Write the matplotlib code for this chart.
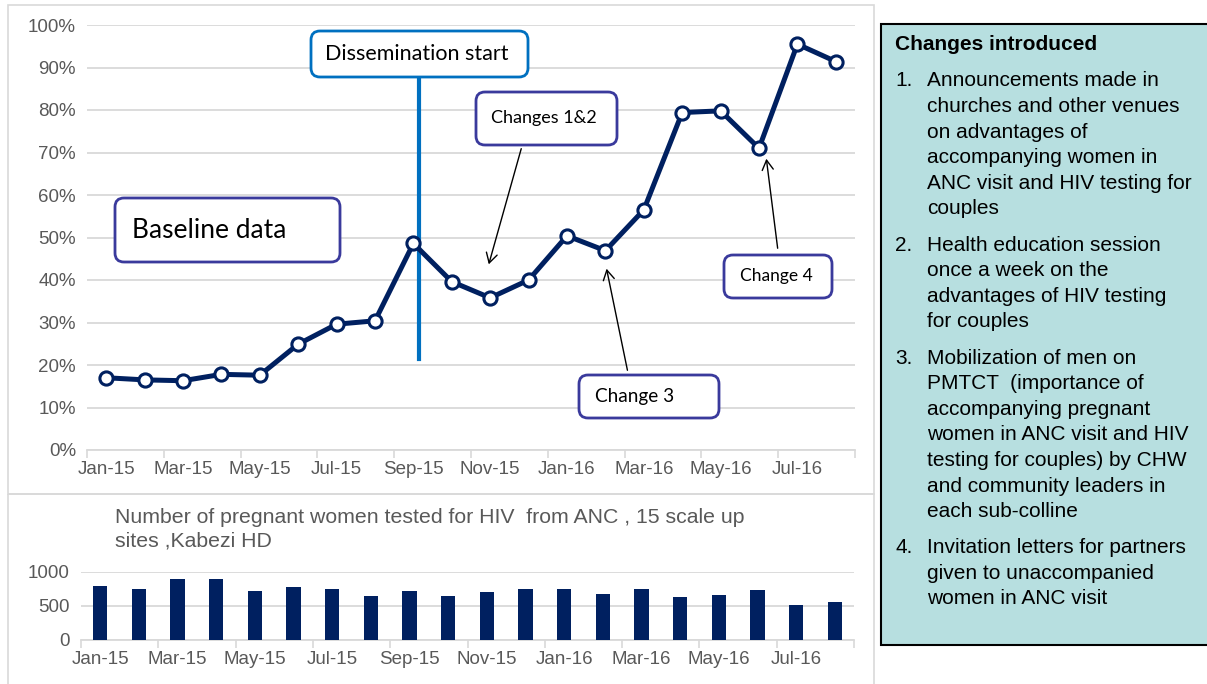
import matplotlib
matplotlib.use("Agg")
import matplotlib.pyplot as plt
from matplotlib.patches import Rectangle, FancyBboxPatch, FancyArrowPatch
from matplotlib.transforms import Affine2D

W, H = 1207, 684

months = ['Jan-15', 'Feb-15', 'Mar-15', 'Apr-15', 'May-15', 'Jun-15', 'Jul-15', 'Aug-15',
          'Sep-15', 'Oct-15', 'Nov-15', 'Dec-15', 'Jan-16', 'Feb-16', 'Mar-16', 'Apr-16',
          'May-16', 'Jun-16', 'Jul-16', 'Aug-16']
# proportion of women accompanied / couples tested
pct = [0.170, 0.165, 0.163, 0.178, 0.176, 0.249, 0.296, 0.304, 0.486, 0.396,
       0.358, 0.400, 0.504, 0.469, 0.565, 0.794, 0.798, 0.710, 0.955, 0.914]
# number of pregnant women tested for HIV
tested = [792, 757, 900, 900, 718, 782, 743, 644, 718, 644,
          708, 757, 743, 678, 757, 634, 668, 733, 515, 564]

changes = [
    ("1.", ["Announcements made in", "churches and other venues", "on advantages of",
            "accompanying women in", "ANC visit and HIV testing for", "couples"]),
    ("2.", ["Health education session", "once a week on the",
            "advantages of HIV testing", "for couples"]),
    ("3.", ["Mobilization of men on", "PMTCT  (importance of",
            "accompanying pregnant", "women in ANC visit and HIV",
            "testing for couples) by CHW", "and community leaders in",
            "each sub-colline"]),
    ("4.", ["Invitation letters for partners", "given to unaccompanied",
            "women in ANC visit"]),
]

navy = '#002060'
grey_txt = '#595959'
grid_c = '#D9D9D9'
box_c = '#3A3A9C'
blue = '#0070C0'

plt.rcParams['font.family'] = ['Liberation Sans', 'DejaVu Sans']

fig = plt.figure(figsize=(W / 100, H / 100), dpi=100)
# pixel coords, origin top-left
pxt = Affine2D().scale(1 / W, -1 / H).translate(0, 1) + fig.transFigure


def rect(x0, y0, x1, y1):
    return [x0 / W, 1 - y1 / H, (x1 - x0) / W, (y1 - y0) / H]


# chart frames
fig.patches.append(Rectangle((8, 5), 866, 489, transform=pxt, fill=False, ec=grid_c, lw=1.2))
fig.patches.append(Rectangle((8, 494), 866, 200, transform=pxt, fill=False, ec=grid_c, lw=1.2))

x = list(range(len(months)))

# ---- top line chart
ax = fig.add_axes(rect(87, 25, 855, 450))
ax.plot(x, pct, color=navy, lw=3.6, marker='o', ms=9.5, mfc='white', mec=navy, mew=2.2, zorder=3)
ax.set_ylim(0, 1.0)
ax.set_xlim(-0.5, len(months) - 0.5)
ax.set_yticks([i / 10 for i in range(11)])
ax.set_yticklabels(['%d%%' % (i * 10) for i in range(11)])
ax.set_xticks(x[::2])
ax.set_xticklabels(months[::2])
ax.set_xticks([i - 0.5 for i in range(0, 21, 2)], minor=True)
ax.tick_params(axis='both', which='major', length=0, labelsize=13.5, labelcolor=grey_txt, pad=8)
ax.tick_params(axis='x', which='minor', length=6, color=grid_c, width=1.2)
ax.grid(axis='y', color=grid_c, lw=1.3)
ax.set_axisbelow(True)
for s in ['top', 'right', 'left']:
    ax.spines[s].set_visible(False)
ax.spines['bottom'].set_color(grid_c)
ax.spines['bottom'].set_linewidth(1.3)

# dissemination line
ax.plot([8.15, 8.15], [0.214, 0.93], color=blue, lw=3, clip_on=False, zorder=2)


def label_box(x0, y0, x1, y1, txt, ec, fs, lw=2, ha='center', tx=None):
    fig.patches.append(FancyBboxPatch((x0, y0), x1 - x0, y1 - y0,
                                      boxstyle='round,pad=0,rounding_size=9',
                                      transform=pxt, fc='white', ec=ec, lw=lw, zorder=5))
    if tx is None:
        tx = (x0 + x1) / 2
    fig.text(tx / W, 1 - ((y0 + y1) / 2) / H, txt, ha=ha, va='center', fontsize=fs,
             family='Lato', color='black', zorder=6)


def arrow(xa, ya, xb, yb):
    fig.patches.append(FancyArrowPatch((xa, ya), (xb, yb), transform=pxt,
                                       arrowstyle='->,head_length=7,head_width=4',
                                       color='black', lw=1, zorder=6))


label_box(311, 31, 528, 77, "Dissemination start", blue, 15.5, tx=417)
label_box(115, 198, 340, 262, "Baseline data", box_c, 19, ha='left', tx=132)
label_box(476, 92, 617, 145, "Changes 1&2", box_c, 13, tx=544)
label_box(579, 375, 719, 418, "Change 3", box_c, 13.7, tx=635)
label_box(724, 255, 832, 298, "Change 4", box_c, 12.5, tx=776)
arrow(522, 146, 488, 267)
arrow(628, 373, 606, 266)
arrow(778, 251, 766, 156)

# ---- bottom bar chart
bx = fig.add_axes(rect(81, 572, 854, 640))
bx.bar(x, tested, width=0.37, color=navy, zorder=3)
bx.set_ylim(0, 1000)
bx.set_xlim(-0.5, len(months) - 0.5)
bx.set_yticks([0, 500, 1000])
bx.set_xticks(x[::2])
bx.set_xticklabels(months[::2])
bx.set_xticks([i - 0.5 for i in range(0, 21, 2)], minor=True)
bx.tick_params(axis='both', which='major', length=0, labelsize=13.5, labelcolor=grey_txt, pad=8)
bx.tick_params(axis='x', which='minor', length=6, color=grid_c, width=1.2)
bx.grid(axis='y', color=grid_c, lw=1.3)
bx.set_axisbelow(True)
for s in ['top', 'right', 'left']:
    bx.spines[s].set_visible(False)
bx.spines['bottom'].set_color(grid_c)
bx.spines['bottom'].set_linewidth(1.3)
fig.text(115 / W, 1 - 508 / H,
         "Number of pregnant women tested for HIV  from ANC , 15 scale up\nsites ,Kabezi HD",
         ha='left', va='top', fontsize=15.3, color=grey_txt, linespacing=1.3)

# ---- changes text box
fig.patches.append(Rectangle((881, 24), 400, 621, transform=pxt, fc='#B7DFE0', ec='black', lw=1.5))
fig.text(895 / W, 1 - 45 / H, "Changes introduced", ha='left', va='center',
         fontsize=15, fontweight='bold', color='black')
y = 81
for num, lines in changes:
    fig.text(895 / W, 1 - y / H, num, ha='left', va='center', fontsize=15, color='black')
    for ln in lines:
        fig.text(927 / W, 1 - y / H, ln, ha='left', va='center', fontsize=15, color='black')
        y += 25.6
    y += 10.5

fig.savefig('out.png', dpi=100)
